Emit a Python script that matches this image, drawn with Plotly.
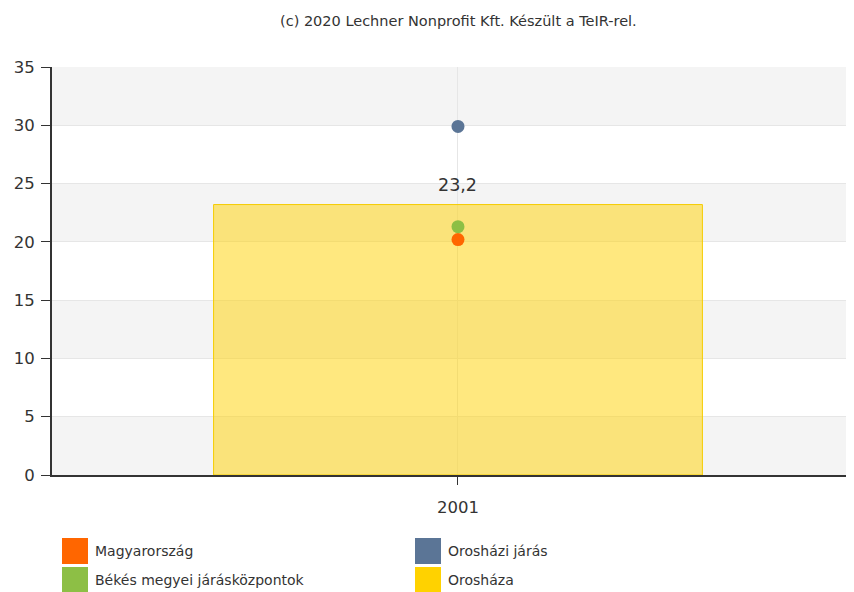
import plotly.graph_objects as go

years = ["2001"]
orshaza = [23.2]
magyarorszag = [20.2]
bekes = [21.3]
oroshazi_jaras = [29.9]
bar_labels = ["23,2"]

series_names = ["Magyarország", "Békés megyei járásközpontok", "Orosházi járás", "Orosháza"]
series_colors = ["#FF6600", "#8DBF45", "#5B7596", "#FFD200"]

FONT = "DejaVu Sans, Verdana, sans-serif"
OFF = 8  # page body offset

fig = go.Figure()
fig.add_trace(go.Bar(
    x=years, y=orshaza, name="Orosháza", width=0.602,
    marker=dict(color="rgba(255,210,0,0.5)", line=dict(color="#F5CC00", width=1)),
    showlegend=False, hoverinfo="y",
))
for name, vals, col in [("Magyarország", magyarorszag, series_colors[0]),
                        ("Békés megyei járásközpontok", bekes, series_colors[1]),
                        ("Orosházi járás", oroshazi_jaras, series_colors[2])]:
    fig.add_trace(go.Scatter(x=years, y=vals, name=name, mode="markers",
                             marker=dict(color=col, size=13), showlegend=False))

shapes = []
for lo in range(0, 35, 10):
    shapes.append(dict(type="rect", xref="paper", yref="y", x0=0, x1=1, y0=lo, y1=lo + 5,
                       fillcolor="#F4F4F4", line=dict(width=0), layer="below"))

L, T, W, H = 52 - OFF, 67 - OFF, 802, 408
def px_x(px): return (px - OFF - L) / W
def px_y(py): return (T + H - (py - OFF)) / H

annotations = [dict(text="(c) 2020 Lechner Nonprofit Kft. Készült a TeIR-rel.", xref="paper", yref="paper",
                    x=px_x(458), y=px_y(21), showarrow=False, xanchor="center", yanchor="middle",
                    font=dict(size=14.5, color="#333333", family=FONT))]
for i, (yv, lab) in enumerate(zip(orshaza, bar_labels)):
    annotations.append(dict(text=lab, x=i, y=yv, xref="x", yref="y", showarrow=False,
                            yanchor="middle", yshift=20,
                            font=dict(size=17.5, color="#333333", family=FONT)))
positions = [(62, 551), (62, 580), (415, 551), (415, 580)]
for (sx, sy), name, col in zip(positions, series_names, series_colors):
    shapes.append(dict(type="rect", xref="paper", yref="paper",
                       x0=px_x(sx), x1=px_x(sx + 26), y0=px_y(sy - 13), y1=px_y(sy + 13),
                       fillcolor=col, line=dict(width=0)))
    annotations.append(dict(text=name, xref="paper", yref="paper", x=px_x(sx + 31), y=px_y(sy),
                            showarrow=False, xanchor="left", yanchor="middle",
                            font=dict(size=14, color="#333333", family=FONT)))

fig.update_layout(
    width=854 - OFF, height=592 - OFF,
    margin=dict(l=L, r=854 - OFF - L - W, t=T, b=592 - OFF - T - H),
    paper_bgcolor="white", plot_bgcolor="white",
    font=dict(family=FONT, color="#333333"),
    shapes=shapes, annotations=annotations, showlegend=False,
    xaxis=dict(type="category", range=[-0.5, 0.4877], showgrid=True, gridcolor="#E6E6E6", showline=True,
               linecolor="#333333", linewidth=2, ticks="outside", ticklen=8, tickcolor="#333333",
               ticklabelstandoff=8,
               tickfont=dict(size=16.5, color="#333333"), fixedrange=True),
    yaxis=dict(range=[0, 35], dtick=5, showgrid=True, gridcolor="#E6E6E6", showline=True,
               linecolor="#333333", linewidth=2, ticks="outside", ticklen=9, tickcolor="#333333",
               ticklabelstandoff=3,
               tickfont=dict(size=16.5, color="#333333"), zeroline=False, fixedrange=True),
)
fig.write_html("out.html")
